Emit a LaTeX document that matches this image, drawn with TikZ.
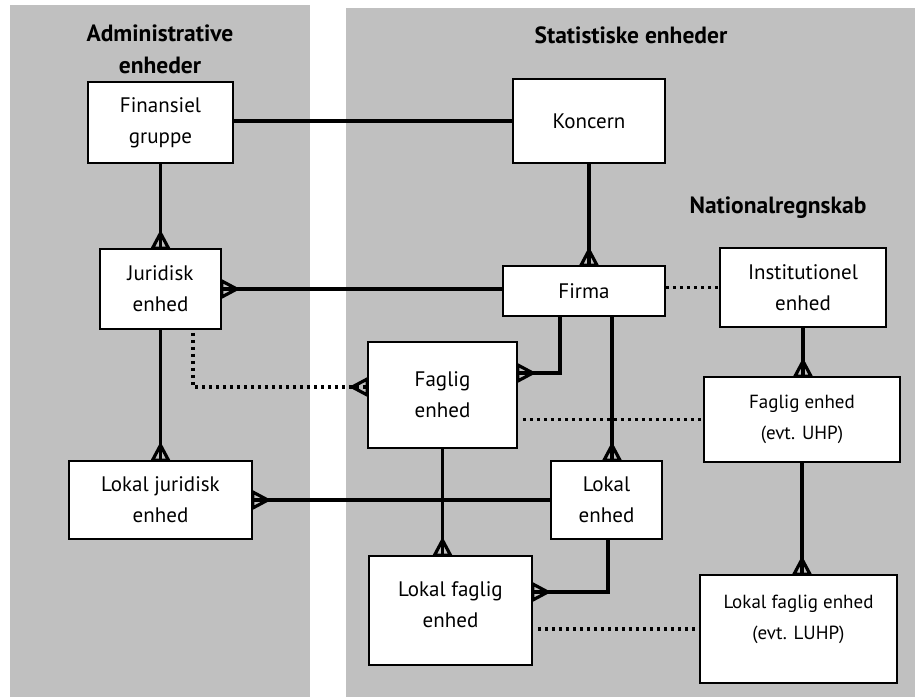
\documentclass[tikz,border=0pt]{standalone}
\usepackage{fontspec}
\setmainfont{PT Sans}
\usetikzlibrary{calc}
\definecolor{panelgray}{RGB}{192,192,192}
\tikzset{
  box/.style={draw=black, line width=1.6pt, fill=white, inner sep=0pt, align=center,
              font=\fontsize{21}{31}\selectfont},
  smallbox/.style={box, font=\fontsize{19}{31}\selectfont},
  lbl/.style={inner sep=0pt, align=center, font=\fontsize{19}{31}\selectfont},
  lblbig/.style={inner sep=0pt, align=center, font=\fontsize{21}{31}\selectfont},
  title/.style={inner sep=0pt, align=center, font=\bfseries\fontsize{23.5}{32}\selectfont},
  link/.style={line width=3.5pt},
  dotlink/.style={line width=3.5pt, dash pattern=on 3.5pt off 3.5pt},
  crowline/.style={draw=black, line width=3.2pt, line join=miter, solid},
}
% crow's feet: base on the box edge, apex pointing away from the box
\newcommand\crowN[1]{\draw[crowline] ($#1+(-8,0)$) -- ($#1+(0,-15)$) -- ($#1+(8,0)$) -- cycle;}
\newcommand\crowE[1]{\draw[crowline] ($#1+(0,-8)$) -- ($#1+(15,0)$) -- ($#1+(0,8)$) -- cycle;}
\newcommand\crowW[1]{\draw[crowline] ($#1+(0,-8)$) -- ($#1+(-15,0)$) -- ($#1+(0,8)$) -- cycle;}
\begin{document}
\begin{tikzpicture}[x=1pt,y=-1pt]
\useasboundingbox (0,0) rectangle (915,697);
\fill[white] (0,0) rectangle (915,697);
\fill[panelgray] (10,5) rectangle (310,697);
\fill[panelgray] (346,8) rectangle (915,697);

% titles
\node[title] (tadm) at (160,49) {Administrative\\enheder};
\node[title] (tstat) at (631,35) {Statistiske enheder};
\node[title] (tnat) at (778,208) {Nationalregnskab};

% boxes
\node[box, minimum width=145, minimum height=81] (fg) at (160.5,122.5) {Finansiel\\gruppe};
\node[box, minimum width=152, minimum height=84] (ko) at (589,121) {Koncern};
\node[box, minimum width=121, minimum height=80] (ju) at (160.5,289) {Juridisk\\enhed};
\node[box, minimum width=162, minimum height=50] (fi) at (584,291) {Firma};
\node[box, minimum width=166, minimum height=79] (in) at (803,287.5) {Institutionel\\enhed};
\node[box, minimum width=149, minimum height=106] (fa) at (442.5,395) {Faglig\\enhed};
\node[smallbox, minimum width=196, minimum height=85] (uhp) at (802,419.5) {Faglig enhed\\(evt. UHP)};
\node[box, minimum width=183, minimum height=78] (lj) at (160.5,500) {Lokal juridisk\\enhed};
\node[box, minimum width=111, minimum height=78] (le) at (606.5,500) {Lokal\\enhed};
\node[box, minimum width=163, minimum height=109] (lfe) at (450.5,610.5) {};
\node[lblbig] (lfetxt) at ($(lfe.center)+(0,-6)$) {Lokal faglig\\enhed};
\node[box, minimum width=197, minimum height=108] (luhp) at (798.5,629) {};
\node[lbl] (luhptxt) at ($(luhp.center)+(0,-10)$) {Lokal faglig enhed\\(evt. LUHP)};

% named points for connectors
\coordinate (fiA) at ($(fi.south)+(-24,0)$);
\coordinate (faE) at ($(fa.east)+(0,-22)$);
\coordinate (fiB) at ($(fi.south)+(28,0)$);
\coordinate (leN) at (fiB |- le.north);
\coordinate (leB) at ($(le.south)+(1.5,0)$);
\coordinate (lfeE) at ($(lfe.east)+(0,-18.5)$);
\coordinate (juD) at ($(ju.south)+(32.5,0)$);
\coordinate (faW) at ($(fa.west)+(0,-8)$);
\coordinate (fiN) at (ko.south |- fi.north);
\coordinate (juE) at (ju.east);
\coordinate (lfeN) at (fa.south |- lfe.north);
\coordinate (uhpN) at (in.south |- uhp.north);
\coordinate (luhpN) at (uhp.south |- luhp.north);

% solid connectors
\draw[link] (fg.east |- ko.west) -- (ko.west);
\draw[link] (fg.south) -- (ju.north);
\draw[link] (ko.south) -- (fiN);
\draw[link] (fi.west |- ju.east) -- (juE);
\draw[link] (fiA) |- (faE);
\draw[link] (fiB) -- (leN);
\draw[link] (ju.south) -- (lj.north);
\draw[link] (le.west) -- (lj.east);
\draw[link] (fa.south) -- (lfeN);
\draw[link] (leB) |- (lfeE);
\draw[link] (in.south) -- (uhpN);
\draw[link] (uhp.south) -- (luhpN);

% dotted connectors
\draw[dotlink] (fi.east |- in.west) -- (in.west);
\draw[dotlink] ($(fa.east |- uhp.west)+(5,0)$) -- (uhp.west);
\draw[dotlink] ($(lfe.east |- luhp.west)+(5,0)$) -- (luhp.west);
\draw[dotlink] ($(juD)+(0,3)$) |- (faW);

% crow's feet
\crowN{(ju.north)}
\crowN{(fiN)}
\crowE{(juE)}
\crowE{(faE)}
\crowN{(leN)}
\crowN{(lj.north)}
\crowE{(lj.east)}
\crowN{(lfeN)}
\crowE{(lfeE)}
\crowN{(uhpN)}
\crowN{(luhpN)}
\crowW{(faW)}
\end{tikzpicture}
\end{document}
